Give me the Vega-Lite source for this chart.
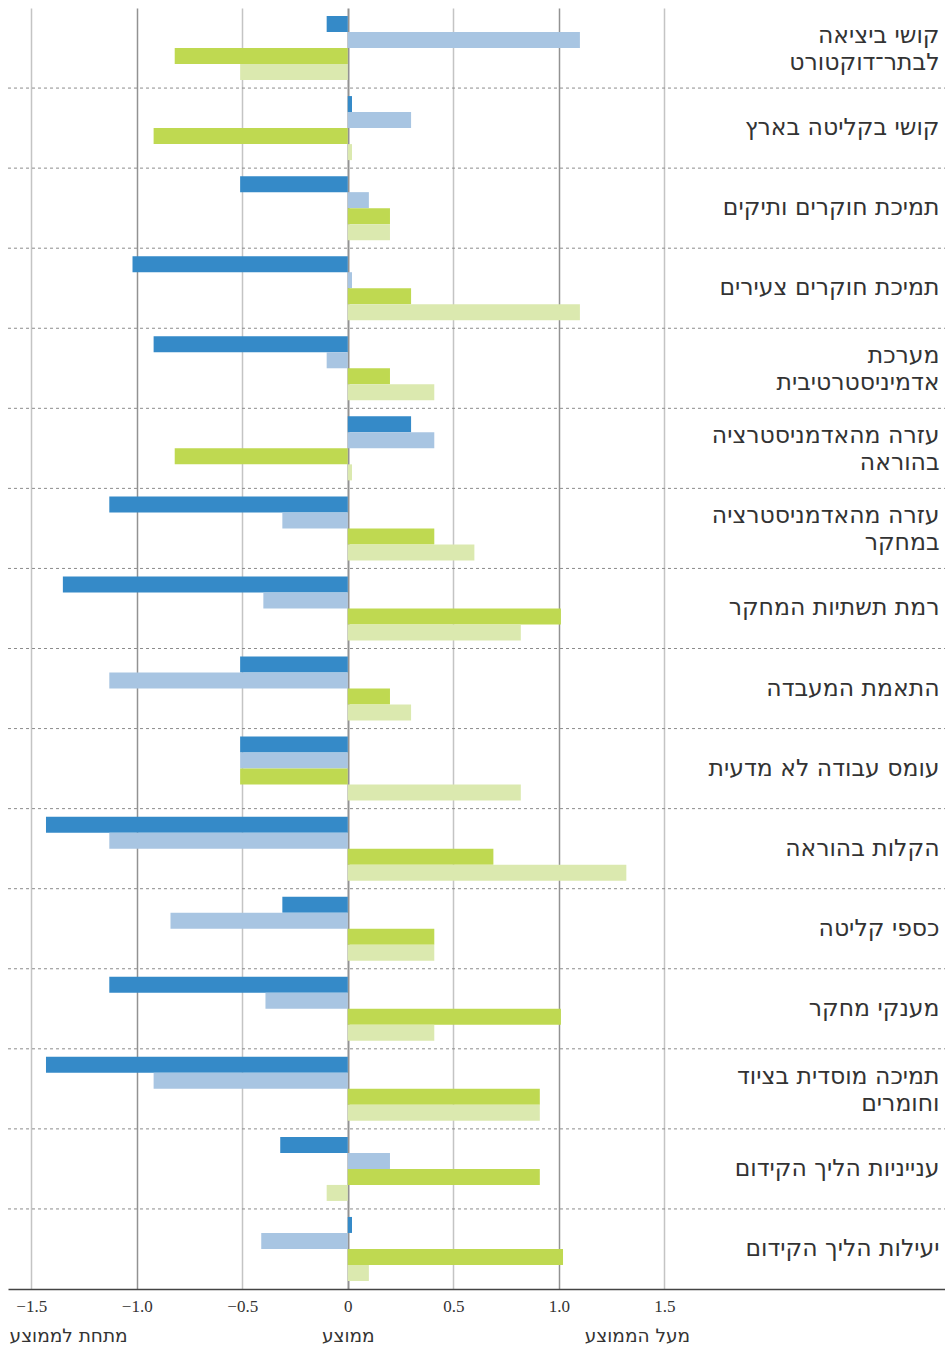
{
  "$schema": "https://vega.github.io/schema/vega-lite/v6.json",
  "width": 937,
  "height": 1281,
  "autosize": {"type": "none"},
  "padding": {"left": 8, "top": 8, "right": 0, "bottom": 61},
  "background": "white",
  "config": {"view": {"stroke": null}},
  "data": {
    "values": [
      {"c": "קושי ביציאה לבתר־דוקטורט", "s": "1", "v": -0.1},
      {"c": "קושי ביציאה לבתר־דוקטורט", "s": "2", "v": 1.1},
      {"c": "קושי ביציאה לבתר־דוקטורט", "s": "3", "v": -0.82},
      {"c": "קושי ביציאה לבתר־דוקטורט", "s": "4", "v": -0.51},
      {"c": "קושי בקליטה בארץ", "s": "1", "v": 0.02},
      {"c": "קושי בקליטה בארץ", "s": "2", "v": 0.3},
      {"c": "קושי בקליטה בארץ", "s": "3", "v": -0.92},
      {"c": "קושי בקליטה בארץ", "s": "4", "v": 0.02},
      {"c": "תמיכת חוקרים ותיקים", "s": "1", "v": -0.51},
      {"c": "תמיכת חוקרים ותיקים", "s": "2", "v": 0.1},
      {"c": "תמיכת חוקרים ותיקים", "s": "3", "v": 0.2},
      {"c": "תמיכת חוקרים ותיקים", "s": "4", "v": 0.2},
      {"c": "תמיכת חוקרים צעירים", "s": "1", "v": -1.02},
      {"c": "תמיכת חוקרים צעירים", "s": "2", "v": 0.02},
      {"c": "תמיכת חוקרים צעירים", "s": "3", "v": 0.3},
      {"c": "תמיכת חוקרים צעירים", "s": "4", "v": 1.1},
      {"c": "מערכת אדמיניסטרטיבית", "s": "1", "v": -0.92},
      {"c": "מערכת אדמיניסטרטיבית", "s": "2", "v": -0.1},
      {"c": "מערכת אדמיניסטרטיבית", "s": "3", "v": 0.2},
      {"c": "מערכת אדמיניסטרטיבית", "s": "4", "v": 0.41},
      {"c": "עזרה מהאדמניסטרציה בהוראה", "s": "1", "v": 0.3},
      {"c": "עזרה מהאדמניסטרציה בהוראה", "s": "2", "v": 0.41},
      {"c": "עזרה מהאדמניסטרציה בהוראה", "s": "3", "v": -0.82},
      {"c": "עזרה מהאדמניסטרציה בהוראה", "s": "4", "v": 0.02},
      {"c": "עזרה מהאדמניסטרציה במחקר", "s": "1", "v": -1.13},
      {"c": "עזרה מהאדמניסטרציה במחקר", "s": "2", "v": -0.31},
      {"c": "עזרה מהאדמניסטרציה במחקר", "s": "3", "v": 0.41},
      {"c": "עזרה מהאדמניסטרציה במחקר", "s": "4", "v": 0.6},
      {"c": "רמת תשתיות המחקר", "s": "1", "v": -1.35},
      {"c": "רמת תשתיות המחקר", "s": "2", "v": -0.4},
      {"c": "רמת תשתיות המחקר", "s": "3", "v": 1.01},
      {"c": "רמת תשתיות המחקר", "s": "4", "v": 0.82},
      {"c": "התאמת המעבדה", "s": "1", "v": -0.51},
      {"c": "התאמת המעבדה", "s": "2", "v": -1.13},
      {"c": "התאמת המעבדה", "s": "3", "v": 0.2},
      {"c": "התאמת המעבדה", "s": "4", "v": 0.3},
      {"c": "עומס עבודה לא מדעית", "s": "1", "v": -0.51},
      {"c": "עומס עבודה לא מדעית", "s": "2", "v": -0.51},
      {"c": "עומס עבודה לא מדעית", "s": "3", "v": -0.51},
      {"c": "עומס עבודה לא מדעית", "s": "4", "v": 0.82},
      {"c": "הקלות בהוראה", "s": "1", "v": -1.43},
      {"c": "הקלות בהוראה", "s": "2", "v": -1.13},
      {"c": "הקלות בהוראה", "s": "3", "v": 0.69},
      {"c": "הקלות בהוראה", "s": "4", "v": 1.32},
      {"c": "כספי קליטה", "s": "1", "v": -0.31},
      {"c": "כספי קליטה", "s": "2", "v": -0.84},
      {"c": "כספי קליטה", "s": "3", "v": 0.41},
      {"c": "כספי קליטה", "s": "4", "v": 0.41},
      {"c": "מענקי מחקר", "s": "1", "v": -1.13},
      {"c": "מענקי מחקר", "s": "2", "v": -0.39},
      {"c": "מענקי מחקר", "s": "3", "v": 1.01},
      {"c": "מענקי מחקר", "s": "4", "v": 0.41},
      {"c": "תמיכה מוסדית בציוד וחומרים", "s": "1", "v": -1.43},
      {"c": "תמיכה מוסדית בציוד וחומרים", "s": "2", "v": -0.92},
      {"c": "תמיכה מוסדית בציוד וחומרים", "s": "3", "v": 0.91},
      {"c": "תמיכה מוסדית בציוד וחומרים", "s": "4", "v": 0.91},
      {"c": "ענייניות הליך הקידום", "s": "1", "v": -0.32},
      {"c": "ענייניות הליך הקידום", "s": "2", "v": 0.2},
      {"c": "ענייניות הליך הקידום", "s": "3", "v": 0.91},
      {"c": "ענייניות הליך הקידום", "s": "4", "v": -0.1},
      {"c": "יעילות הליך הקידום", "s": "1", "v": 0.02},
      {"c": "יעילות הליך הקידום", "s": "2", "v": -0.41},
      {"c": "יעילות הליך הקידום", "s": "3", "v": 1.02},
      {"c": "יעילות הליך הקידום", "s": "4", "v": 0.1}
    ]
  },
  "resolve": {"axis": {"x": "independent", "y": "independent"}},
  "layer": [
    {
      "mark": {"type": "bar"},
      "encoding": {
        "y": {
          "field": "c", "type": "nominal", "sort": null,
          "scale": {"paddingInner": 0, "paddingOuter": 0},
          "axis": {
            "orient": "right", "title": null, "domain": false, "ticks": false, "tickSize": 0, "grid": false,
            "labelAlign": "right", "labelBaseline": "middle", "labelPadding": -6,
            "labelOffset": {"condition": {"test": "indexof(['קושי ביציאה לבתר־דוקטורט', 'מערכת אדמיניסטרטיבית', 'עזרה מהאדמניסטרציה בהוראה', 'עזרה מהאדמניסטרציה במחקר', 'תמיכה מוסדית בציוד וחומרים'], datum.value) >= 0", "value": -12}, "value": 0},
            "labelFont": "DejaVu Sans", "labelFontSize": 23.5, "labelColor": "#333333",
            "labelLineHeight": 27, "labelLimit": 500, "labelOverlap": false, "labelBound": false,
            "labelExpr": "datum.value == 'קושי ביציאה לבתר־דוקטורט' ? ['קושי ביציאה', 'לבתר־דוקטורט'] : datum.value == 'מערכת אדמיניסטרטיבית' ? ['מערכת', 'אדמיניסטרטיבית'] : datum.value == 'עזרה מהאדמניסטרציה בהוראה' ? ['עזרה מהאדמניסטרציה', 'בהוראה'] : datum.value == 'עזרה מהאדמניסטרציה במחקר' ? ['עזרה מהאדמניסטרציה', 'במחקר'] : datum.value == 'תמיכה מוסדית בציוד וחומרים' ? ['תמיכה מוסדית בציוד', 'וחומרים'] : datum.value"
          }
        },
        "yOffset": {"field": "s", "type": "nominal", "scale": {"paddingInner": 0, "paddingOuter": 0.5}},
        "x": {
          "field": "v", "type": "quantitative",
          "scale": {"domain": [-1.61, 2.83], "nice": false, "zero": false},
          "axis": {
            "orient": "bottom", "title": null, "values": [-1.5, -1, -0.5, 0, 0.5, 1, 1.5],
            "labelExpr": "datum.value == 0 ? '0' : format(datum.value, '.1f')",
            "labelFont": "Liberation Serif", "labelFontSize": 17, "labelColor": "#333333", "labelPadding": 9,
            "labelFlush": false, "labelOverlap": false,
            "ticks": false, "domain": true, "domainColor": "#444444", "domainWidth": 1.5,
            "grid": true,
            "gridColor": {"condition": {"test": "datum.value == 0 || datum.value == 1 || datum.value == -1", "value": "#929292"}, "value": "#c4c4c4"},
            "gridWidth": {"condition": {"test": "datum.value == 0", "value": 2}, "value": 1.5}
          }
        },
        "color": {
          "field": "s", "type": "nominal",
          "scale": {"domain": ["1", "2", "3", "4"], "range": ["#358ac8", "#a8c5e2", "#bfd951", "#dbe9af"]},
          "legend": null
        }
      }
    },
    {
      "transform": [{"filter": "datum.s == '1' && datum.c != 'יעילות הליך הקידום'"}],
      "mark": {"type": "rule", "strokeDash": [3, 3], "color": "#8c8c8c", "strokeWidth": 1},
      "encoding": {
        "y": {"field": "c", "type": "nominal", "sort": null, "bandPosition": 1, "axis": null},
        "x": {
          "datum": -1.61, "type": "quantitative",
          "axis": {
            "orient": "bottom", "title": null, "values": [-1.605, 0, 1.37],
            "labelExpr": "datum.value < -1 ? 'מתחת לממוצע' : datum.value > 1 ? 'מעל הממוצע' : 'ממוצע'",
            "labelAlign": {"condition": {"test": "datum.value < -1", "value": "left"}, "value": "center"},
            "labelFont": "DejaVu Sans", "labelFontSize": 18.5, "labelColor": "#333333",
            "labelPadding": 37, "labelFlush": false, "labelOverlap": false,
            "ticks": false, "domain": false, "grid": false
          }
        },
        "x2": {"datum": 2.83}
      }
    }
  ]
}
